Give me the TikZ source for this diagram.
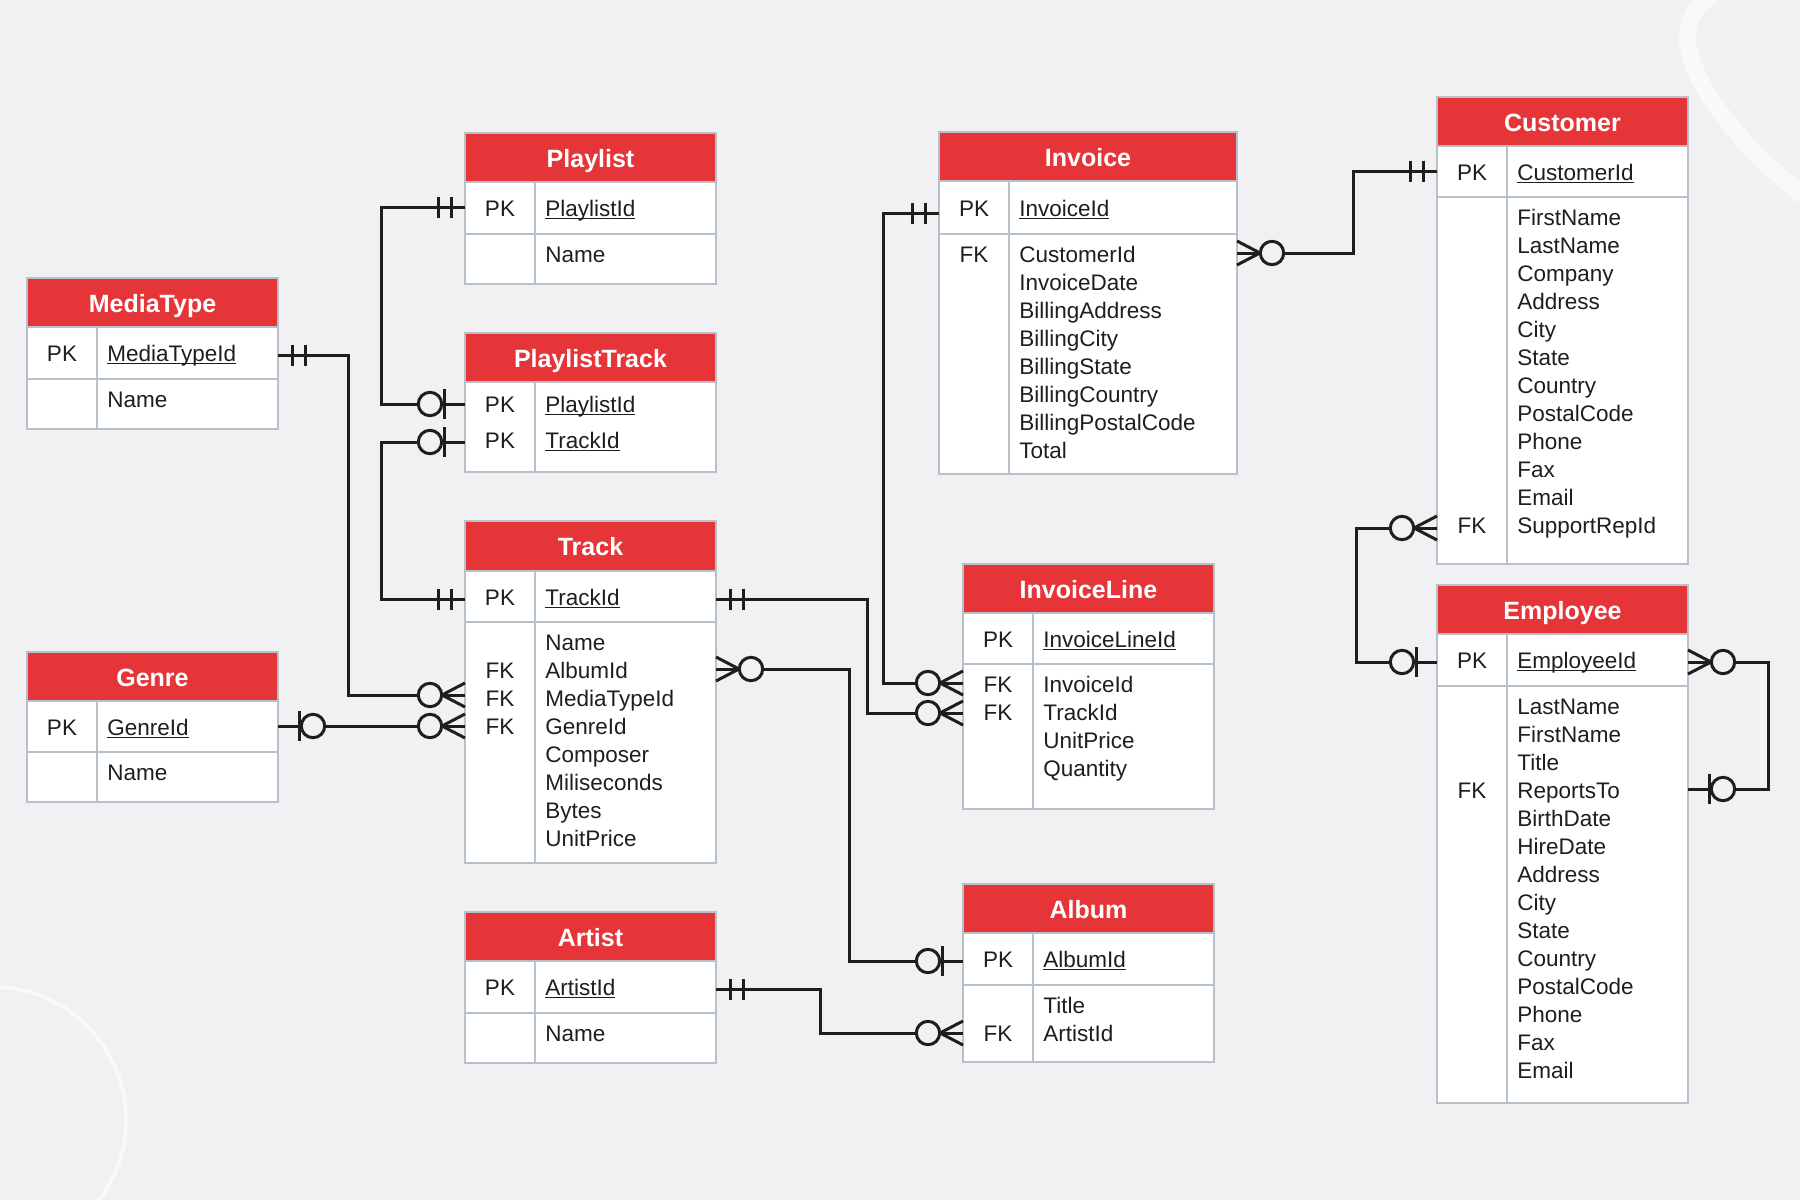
\documentclass[tikz,border=0pt]{standalone}
\usepackage{fontspec}
\setmainfont{Liberation Sans}
\usetikzlibrary{calc}
\definecolor{bg}{HTML}{F1F1F3}
\definecolor{hred}{HTML}{E53538}
\definecolor{bord}{HTML}{B7C1C9}
\definecolor{txt}{HTML}{1E1E1E}
\definecolor{deco}{HTML}{F9F9FB}
\tikzset{
 conn/.style={draw=txt, line width=1.5pt},
 boxline/.style={draw=bord, line width=1pt},
 hdr/.style={anchor=base, inner sep=0, text=white, font=\fontsize{12.5}{14}\selectfont\bfseries},
 fld/.style={anchor=base west, inner sep=0, text=txt, font=\fontsize{11.25}{14}\selectfont},
 key/.style={anchor=base, inner sep=0, text=txt, font=\fontsize{11.25}{14}\selectfont},
}
\newcommand{\ulin}[1]{\setbox0=\hbox{#1}\rlap{\rule[-1.4pt]{\wd0}{0.6pt}}\box0}
% #1 name #2 x1 #3 x2 #4 ytop #5 yhead #6 ypk #7 ybot #8 title
\newcommand{\entity}[8]{%
  \fill[white] (#2,#5) rectangle (#3,#7);
  \fill[hred] (#2,#4) rectangle (#3,#5);
  \draw[boxline] (#2,#5) -- (#3,#5);
  \draw[boxline] (#2,#6) -- (#3,#6);
  \draw[boxline] ({#2+70},#5) -- ({#2+70},#7);
  \draw[boxline] (#2,#4) rectangle (#3,#7);
  \node[hdr] (#1) at ({(#2+#3)/2},{(#4+#5)/2+9.5}) {#8};
}
\newcommand{\fieldlist}[4]{\foreach \t [count=\i] in {#4} {\node[fld] (#1\i) at (#2,{#3+(\i-1)*28}) {\t};}}
\newcommand{\mkOne}[2]{%
  \draw[conn] ($(#1)+(#2*14,-10.5)$) -- ($(#1)+(#2*14,10.5)$);
  \draw[conn] ($(#1)+(#2*27,-10.5)$) -- ($(#1)+(#2*27,10.5)$);}
\newcommand{\mkZeroOne}[2]{%
  \draw[conn] ($(#1)+(#2*21,-15)$) -- ($(#1)+(#2*21,15)$);
  \draw[conn,fill=bg] ($(#1)+(#2*35,0)$) circle[radius=5.85pt];}
\newcommand{\mkZeroMany}[2]{%
  \draw[conn] ($(#1)+(0,-12)$) -- ($(#1)+(#2*23,0)$) -- ($(#1)+(0,12)$);
  \draw[conn,fill=bg] ($(#1)+(#2*35,0)$) circle[radius=5.85pt];}
\begin{document}
\begin{tikzpicture}[x=0.5pt,y=-0.5pt]
\fill[bg] (0,0) rectangle (1800,1200);
\useasboundingbox (0,0) rectangle (1800,1200);
\clip (0,0) rectangle (1800,1200);
% decorations
\draw[deco, line width=2pt] (-7,1120) circle[radius=66.5pt];
\draw[deco, line width=8.5pt] (1712,-5) .. controls (1690,10) and (1684,30) .. (1689,50) .. controls (1697,90) and (1740,145) .. (1800,193) -- (1830,200);

% entities
\entity{mt}{27}{278}{278}{327}{379}{429}{MediaType}
\node[key] (mt-k) at (62,361.5) {PK};
\node[fld] (mt-pk) at (107,361.5) {\ulin{MediaTypeId}};
\fieldlist{mt-f}{107}{407.5}{Name}

\entity{ge}{27}{278}{652}{701}{752}{802}{Genre}
\node[key] (ge-k) at (62,735) {PK};
\node[fld] (ge-pk) at (107,735) {\ulin{GenreId}};
\fieldlist{ge-f}{107}{780.5}{Name}

\entity{pl}{465}{716}{133}{182}{234}{284}{Playlist}
\node[key] (pl-k) at (500,216.5) {PK};
\node[fld] (pl-pk) at (545,216.5) {\ulin{PlaylistId}};
\fieldlist{pl-f}{545}{262.5}{Name}

\entity{pt}{465}{716}{333}{382}{472}{472}{PlaylistTrack}
\node[key] (pt-k1) at (500,412) {PK};
\node[fld] (pt-pk1) at (545,412) {\ulin{PlaylistId}};
\node[key] (pt-k2) at (500,448) {PK};
\node[fld] (pt-pk2) at (545,448) {\ulin{TrackId}};

\entity{tr}{465}{716}{521}{571}{622}{863}{Track}
\node[key] (tr-k) at (500,605) {PK};
\node[fld] (tr-pk) at (545,605) {\ulin{TrackId}};
\fieldlist{tr-f}{545}{650.5}{Name,AlbumId,MediaTypeId,GenreId,Composer,Miliseconds,Bytes,UnitPrice}
\node[key] (tr-fk1) at (500,678.5) {FK};
\node[key] (tr-fk2) at (500,706.5) {FK};
\node[key] (tr-fk3) at (500,734.5) {FK};

\entity{ar}{465}{716}{912}{961}{1013}{1063}{Artist}
\node[key] (ar-k) at (500,995.5) {PK};
\node[fld] (ar-pk) at (545,995.5) {\ulin{ArtistId}};
\fieldlist{ar-f}{545}{1041.5}{Name}

\entity{in}{939}{1237}{132}{181}{234}{474}{Invoice}
\node[key] (in-k) at (974,216) {PK};
\node[fld] (in-pk) at (1019,216) {\ulin{InvoiceId}};
\fieldlist{in-f}{1019}{262.5}{CustomerId,InvoiceDate,BillingAddress,BillingCity,BillingState,BillingCountry,BillingPostalCode,Total}
\node[key] (in-fk) at (974,262.5) {FK};

\entity{il}{963}{1214}{564}{613}{664}{809}{InvoiceLine}
\node[key] (il-k) at (998,647) {PK};
\node[fld] (il-pk) at (1043,647) {\ulin{InvoiceLineId}};
\fieldlist{il-f}{1043}{692.5}{InvoiceId,TrackId,UnitPrice,Quantity}
\node[key] (il-fk1) at (998,692.5) {FK};
\node[key] (il-fk2) at (998,720.5) {FK};

\entity{al}{963}{1214}{884}{933}{985}{1062}{Album}
\node[key] (al-k) at (998,967.5) {PK};
\node[fld] (al-pk) at (1043,967.5) {\ulin{AlbumId}};
\fieldlist{al-f}{1043}{1013.5}{Title,ArtistId}
\node[key] (al-fk) at (998,1041.5) {FK};

\entity{cu}{1437}{1688}{97}{146}{197}{564}{Customer}
\node[key] (cu-k) at (1472,180) {PK};
\node[fld] (cu-pk) at (1517,180) {\ulin{CustomerId}};
\fieldlist{cu-f}{1517}{225.5}{FirstName,LastName,Company,Address,City,State,Country,PostalCode,Phone,Fax,Email,SupportRepId}
\node[key] (cu-fk) at (1472,533.5) {FK};

\entity{em}{1437}{1688}{585}{634}{686}{1103}{Employee}
\node[key] (em-k) at (1472,668.5) {PK};
\node[fld] (em-pk) at (1517,668.5) {\ulin{EmployeeId}};
\fieldlist{em-f}{1517}{714.5}{LastName,FirstName,Title,ReportsTo,BirthDate,HireDate,Address,City,State,Country,PostalCode,Phone,Fax,Email}
\node[key] (em-fk) at (1472,798.5) {FK};

% attachment points
\coordinate (plPK) at (465,207);
\coordinate (ptPL) at (465,404);
\coordinate (ptTK) at (465,442);
\coordinate (trPKw) at (465,599);
\coordinate (mtPK) at (278,355);
\coordinate (trMT) at (465,695);
\coordinate (gePK) at (278,726);
\coordinate (trGE) at (465,726);
\coordinate (trPKe) at (716,599);
\coordinate (ilTK) at (963,713);
\coordinate (trAL) at (716,669);
\coordinate (alPK) at (963,961);
\coordinate (inPK) at (939,213);
\coordinate (ilIN) at (963,683);
\coordinate (arPK) at (716,989);
\coordinate (alAR) at (963,1033);
\coordinate (inCU) at (1237,253);
\coordinate (cuPK) at (1437,171);
\coordinate (cuSR) at (1437,528);
\coordinate (emPKw) at (1437,662);
\coordinate (emPKe) at (1688,662);
\coordinate (emRT) at (1688,789);

% connectors
\draw[conn] (plPK) -- ++(-84,0) |- (ptPL);
\draw[conn] (ptTK) -- ++(-84,0) |- (trPKw);
\draw[conn] (mtPK) -- ++(70,0) |- (trMT);
\draw[conn] (gePK) -- (trGE);
\draw[conn] (trPKe) -- ++(151,0) |- (ilTK);
\draw[conn] (trAL) -- ++(133,0) |- (alPK);
\draw[conn] (inPK) -- ++(-56,0) |- (ilIN);
\draw[conn] (arPK) -- ++(104,0) |- (alAR);
\draw[conn] (inCU) -- ++(116,0) |- (cuPK);
\draw[conn] (cuSR) -- ++(-81,0) |- (emPKw);
\draw[conn] (emPKe) -- ++(80,0) |- (emRT);

% cardinality marks
\mkOne{plPK}{-1} \mkZeroOne{ptPL}{-1}
\mkZeroOne{ptTK}{-1} \mkOne{trPKw}{-1}
\mkOne{mtPK}{1} \mkZeroMany{trMT}{-1}
\mkZeroOne{gePK}{1} \mkZeroMany{trGE}{-1}
\mkOne{trPKe}{1} \mkZeroMany{ilTK}{-1}
\mkZeroMany{trAL}{1} \mkZeroOne{alPK}{-1}
\mkOne{inPK}{-1} \mkZeroMany{ilIN}{-1}
\mkOne{arPK}{1} \mkZeroMany{alAR}{-1}
\mkZeroMany{inCU}{1} \mkOne{cuPK}{-1}
\mkZeroMany{cuSR}{-1} \mkZeroOne{emPKw}{-1}
\mkZeroMany{emPKe}{1} \mkZeroOne{emRT}{1}
\end{tikzpicture}
\end{document}
